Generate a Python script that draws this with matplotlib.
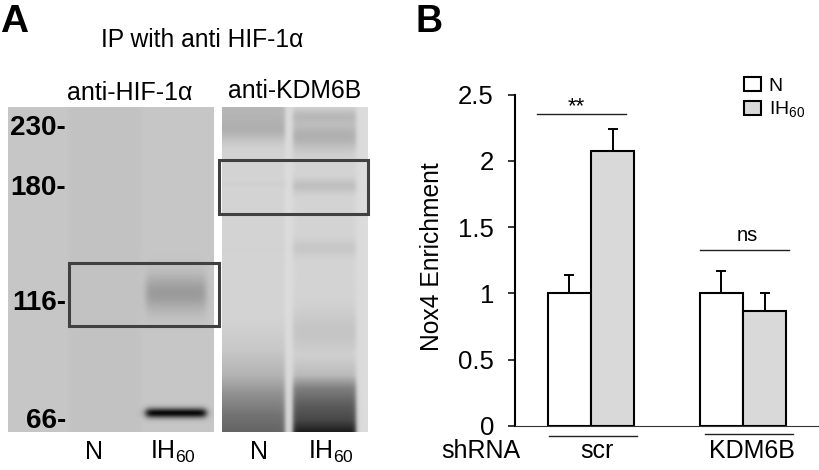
import numpy as np
import matplotlib
matplotlib.use('Agg')
import matplotlib.pyplot as plt
from matplotlib.patches import Rectangle

plt.rcParams['font.family'] = ['Liberation Sans', 'DejaVu Sans']
plt.rcParams['mathtext.fontset'] = 'custom'
plt.rcParams['mathtext.rm'] = 'Liberation Sans'
plt.rcParams['mathtext.default'] = 'rm'

# bar data
groups = ['scr', 'KDM6B']
n_vals = [1.0, 1.0]
ih_vals = [2.075, 0.865]
n_err = [0.14, 0.17]
ih_err = [0.165, 0.135]
yticks = [0, 0.5, 1, 1.5, 2, 2.5]
ylabels = ['0', '0.5', '1', '1.5', '2', '2.5']

# gel data, (centre y px, sigma px, darkness)
markers = ['230-', '180-', '116-', '66-']
marker_y = [128, 188, 303, 421]
gel1_ih_bands = [(293, 13, 0.17), (413, 3.5, 0.74)]
gel2_n_bands = [(108, 12, 0.11), (130, 9, 0.12), (184, 2.5, 0.015), (250, 3, 0.008)]
gel2_ih_bands = [(116, 5, 0.09), (136, 10, 0.14), (186, 5, 0.08), (248, 6, 0.05), (332, 16, 0.06)]
# smear at the bottom of the KDM6B lanes
smear_y = [315, 350, 375, 395, 415, 432]
gel2_n_smear = [0.0, 0.05, 0.13, 0.27, 0.38, 0.44]
smear2_y = [355, 375, 388, 405, 420, 432]
gel2_ih_smear = [0.0, 0.1, 0.33, 0.47, 0.55, 0.72]


def lane(xx, x0, x1, edge=2.0):
    return 1 / (1 + np.exp((x0 - xx) / edge)) * 1 / (1 + np.exp((xx - x1) / edge))


def profile(yy, bands, sy=None, sv=None):
    p = np.zeros_like(yy)
    for c, s, d in bands:
        p += d * np.exp(-((yy - c) / s) ** 2 / 2)
    if sy is not None:
        p += np.interp(yy, sy, sv, left=0, right=sv[-1])
    return p


fig = plt.figure(figsize=(8.19, 4.70), dpi=100)
bg = fig.add_axes([0, 0, 1, 1])

yy = np.arange(107, 432) + 0.5

# gel 1
xx = np.arange(8, 214) + 0.5
img = np.full((len(yy), len(xx)), 0.775)
img -= 0.015 * lane(xx, 70, 140, 1.5)[None, :]
img -= profile(yy, gel1_ih_bands)[:, None] * lane(xx, 146, 206)[None, :]
bg.imshow(np.clip(img, 0, 1), cmap='gray', vmin=0, vmax=1, extent=[8, 214, 432, 107],
          aspect='auto', interpolation='bilinear')

# gel 2
xx = np.arange(222, 368) + 0.5
img = np.full((len(yy), len(xx)), 0.86)
img -= 0.03 * lane(xx, 215, 285, 1.0)[None, :]
img -= 0.03 * lane(xx, 293, 356, 1.5)[None, :]
img -= profile(yy, gel2_n_bands, smear_y, gel2_n_smear)[:, None] * lane(xx, 215, 285, 1.2)[None, :]
img -= profile(yy, gel2_ih_bands, smear2_y, gel2_ih_smear)[:, None] * lane(xx, 293, 356, 1.2)[None, :]
bg.imshow(np.clip(img, 0, 1), cmap='gray', vmin=0, vmax=1, extent=[222, 368, 432, 107],
          aspect='auto', interpolation='bilinear')
bg.set_xlim(0, 819)
bg.set_ylim(470, 0)
bg.axis('off')

# boxes on the gels
bg.add_patch(Rectangle((68.5, 262.5), 150, 63, fill=False, ec='#404040', lw=2.2))
bg.add_patch(Rectangle((219, 159.5), 149, 54, fill=False, ec='#404040', lw=2.2))

bg.text(0, 22, 'A', fontsize=28, fontweight='bold', ha='left', va='center')
bg.text(416, 22, 'B', fontsize=27, fontweight='bold', ha='left', va='center')
bg.text(202, 40, 'IP with anti HIF-1α', fontsize=17.7, ha='center', va='center')
bg.text(130, 93, 'anti-HIF-1α', fontsize=18, ha='center', va='center')
bg.text(295, 91, 'anti-KDM6B', fontsize=17.8, ha='center', va='center')
for m, y in zip(markers, marker_y):
    bg.text(66, y, m, fontsize=20, fontweight='bold', ha='right', va='center')
for x, t in zip([94, 173, 259, 331], ['N', 'IH$_{60}$', 'N', 'IH$_{60}$']):
    bg.text(x, 452, t, fontsize=18, ha='center', va='center')

# bar panel
ax = fig.add_axes([515 / 819, 1 - 425.7 / 470, (819 - 515) / 819, 331 / 470])
ax.patch.set_alpha(0)
pos = np.arange(len(groups))
w = 0.286
err_kw = dict(ecolor='black', elinewidth=1.4, capsize=3.4, capthick=1.4)
b1 = ax.bar(pos - w / 2, n_vals, w, yerr=[[0, 0], n_err], color='white', edgecolor='black',
            linewidth=1.5, error_kw=err_kw, label='N')
b2 = ax.bar(pos + w / 2, ih_vals, w, yerr=[[0, 0], ih_err], color='#d9d9d9', edgecolor='black',
            linewidth=1.5, error_kw=err_kw, label='IH$_{60}$')
ax.set_xlim(-0.5, 1.5)
ax.set_ylim(0, 2.5)
ax.set_xticks([])
ax.set_yticks(yticks)
ax.set_yticklabels(ylabels, fontsize=18.5)
ax.tick_params(axis='y', length=5.2, width=1.1, pad=10)
ax.spines['top'].set_visible(False)
ax.spines['right'].set_visible(False)
ax.spines['left'].set_linewidth(1.5)
ax.spines['bottom'].set_linewidth(0.8)
ax.spines['bottom'].set_color('#333333')
ax.set_ylabel('Nox4 Enrichment', fontsize=17.7)
ax.yaxis.set_label_coords(-0.233, 0.51)

ax.legend(loc='upper left', bbox_to_anchor=(0.754, 1.052), frameon=False, fontsize=14,
          handlelength=0.85, handleheight=0.72, handletextpad=0.4, labelspacing=0.22,
          borderpad=0, borderaxespad=0)

# significance lines
ax.plot([-0.352, 0.23], [2.354, 2.354], color='#222222', lw=1.0, clip_on=False)
ax.plot([0.72, 1.30], [1.327, 1.327], color='#222222', lw=1.0, clip_on=False)
ax.text(-0.095, 2.41, '**', fontsize=16, ha='center', va='center')
ax.text(1.03, 1.44, 'ns', fontsize=14.5, ha='center', va='center')

# shRNA labels, below the axis
bg.plot([549, 637], [435.7, 435.7], color='#222222', lw=1.0)
bg.plot([705, 793], [434, 434], color='#222222', lw=1.0)
bg.text(481, 451, 'shRNA', fontsize=18, ha='center', va='center')
bg.text(597, 451, 'scr', fontsize=18, ha='center', va='center')
bg.text(752, 451, 'KDM6B', fontsize=18, ha='center', va='center')

fig.savefig('out.png', dpi=100)
